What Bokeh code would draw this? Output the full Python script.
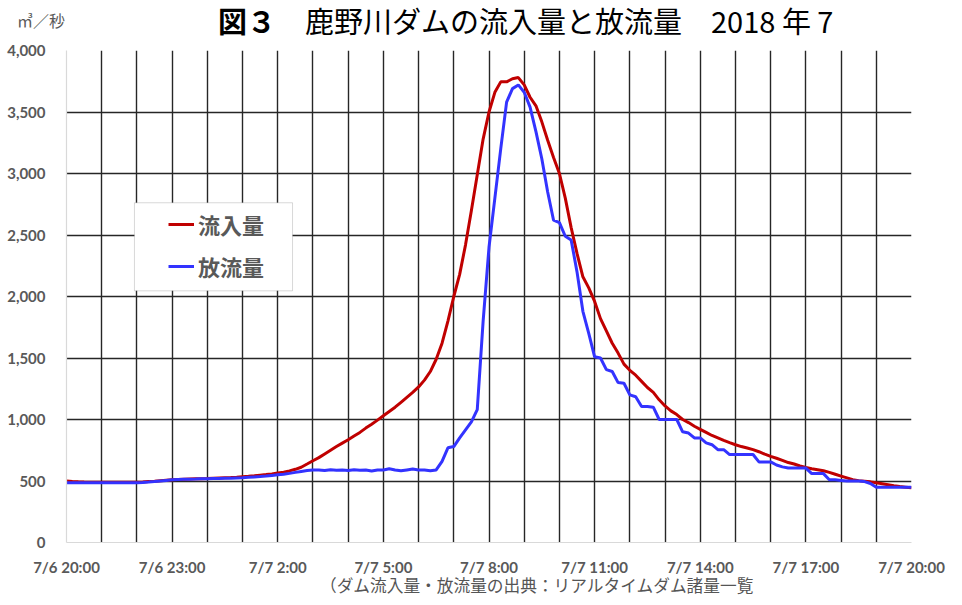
import numpy as np
from bokeh.plotting import figure
from bokeh.layouts import column
from bokeh.models import (Range1d, FixedTicker, NumeralTickFormatter, Legend, Div,
                          LegendItem, BoxAnnotation, ColumnDataSource)
from bokeh.embed import file_html
from bokeh.resources import INLINE

# ---------------- data (10-minute readings from 7/6 20:00 to 7/7 20:00) ----------------
step_minutes = 10
inflow = [
    500, 496, 493, 491, 490, 490,
    490, 490, 490, 490, 490, 490,
    490, 492, 495, 498, 502, 506,
    510, 512, 514, 516, 518, 519,
    520, 522, 524, 526, 528, 531,
    535, 538, 542, 547, 552, 558,
    565, 572, 582, 595, 612, 638,
    665, 690, 720, 750, 780, 808,
    835, 865, 895, 930, 962, 995,
    1030, 1065, 1100, 1140, 1180, 1220,
    1265, 1320, 1390, 1490, 1620, 1800,
    2000, 2180, 2420, 2700, 2990, 3280,
    3500, 3660, 3745, 3745, 3770, 3780,
    3720, 3620, 3550, 3420, 3270, 3130,
    3000, 2800, 2560, 2350, 2160, 2070,
    1960, 1820, 1720, 1620, 1540, 1450,
    1400, 1360, 1310, 1260, 1220, 1160,
    1110, 1070, 1040, 1000, 975, 945,
    920, 895, 870, 850, 830, 812,
    795, 780, 768, 755, 738, 718,
    700, 685, 668, 650, 638, 622,
    610, 600, 592, 583, 570, 555,
    540, 525, 510, 503, 498, 493,
    485, 478, 470, 462, 455, 450,
    445,
]
outflow = [
    485, 485, 485, 485, 485, 485,
    485, 485, 485, 485, 485, 485,
    486, 488, 491, 495, 500, 505,
    510, 512, 514, 515, 516, 518,
    519, 520, 521, 522, 523, 525,
    527, 530, 533, 536, 540, 545,
    550, 555, 562, 570, 578, 585,
    590, 590, 585, 592, 588, 590,
    585, 592, 588, 590, 582, 590,
    590, 600, 590, 583, 590, 597,
    590, 590, 583, 590, 660, 770,
    780, 850, 915, 980, 1080, 1800,
    2400, 2800, 3200, 3580, 3690, 3720,
    3660, 3540, 3340, 3120, 2850, 2620,
    2600, 2490, 2460, 2200, 1880, 1700,
    1510, 1500, 1405, 1390, 1300, 1295,
    1200, 1185, 1105, 1105, 1100, 1000,
    1000, 1000, 1000, 900, 890, 850,
    850, 810, 795, 755, 755, 715,
    715, 715, 715, 715, 655, 655,
    655, 630, 615, 605, 605, 605,
    605, 560, 560, 560, 510, 510,
    505, 500, 500, 500, 495, 480,
    450, 450, 450, 450, 450, 450,
    450,
]
tick_hours = [0, 3, 6, 9, 12, 15, 18, 21, 24]
tick_labels = ["7/6 20:00", "7/6 23:00", "7/7 2:00", "7/7 5:00", "7/7 8:00",
               "7/7 11:00", "7/7 14:00", "7/7 17:00", "7/7 20:00"]
y_ticks = [0, 500, 1000, 1500, 2000, 2500, 3000, 3500, 4000]
series_names = ["流入量", "放流量"]
title_bold = "図３"
title_rest = "鹿野川ダムの流入量と放流量　2018 年 7"
unit_text = "㎥／秒"
source_note = "（ダム流入量・放流量の出典：リアルタイムダム諸量一覧"

hours = np.arange(len(inflow)) * step_minutes / 60.0
src = ColumnDataSource(dict(h=hours, inflow=inflow, outflow=outflow))

# ---------------- figure ----------------
LABEL_FONT = "Lato"
JP_FONT = "Noto Sans CJK JP"
GRAY = "#595959"

p = figure(frame_width=845, frame_height=492,
           min_border_left=66, min_border_right=35, min_border_top=10, min_border_bottom=35,
           x_range=Range1d(0, 24), y_range=Range1d(0, 4000),
           output_backend="svg", toolbar_location=None, margin=0)
p.outline_line_color = None
p.background_fill_color = "white"
p.border_fill_color = "white"

# grid
p.xgrid.ticker = FixedTicker(ticks=list(range(1, 25)))
p.ygrid.ticker = FixedTicker(ticks=y_ticks[1:])
for g in (p.xgrid, p.ygrid):
    g.grid_line_color = "#262626"
    g.grid_line_width = 1.4

# axes
p.xaxis.ticker = FixedTicker(ticks=tick_hours)
p.xaxis.major_label_overrides = {h: l for h, l in zip(tick_hours, tick_labels)}
p.yaxis.ticker = FixedTicker(ticks=y_ticks)
p.yaxis.formatter = NumeralTickFormatter(format="0,0")
for ax in (p.xaxis, p.yaxis):
    ax.axis_line_color = "#d9d9d9"
    ax.axis_line_width = 1.2
    ax.major_tick_line_color = None
    ax.minor_tick_line_color = None
    ax.major_tick_out = 0
    ax.major_tick_in = 0
    ax.major_label_text_font = LABEL_FONT
    ax.major_label_text_font_style = "bold"
    ax.major_label_text_font_size = "15px"
    ax.major_label_text_color = GRAY
p.xaxis.major_label_standoff = 15
p.yaxis.major_label_standoff = 21

# lines
r_in = p.line("h", "inflow", source=src, line_color="#c00000", line_width=3)
r_out = p.line("h", "outflow", source=src, line_color="#3333ff", line_width=3)

# legend box + legend
box = BoxAnnotation(left=1.93, right=6.42, bottom=2046, top=2762,
                    fill_color="white", fill_alpha=1.0,
                    line_color="#7f7f7f", line_width=1)
p.add_layout(box)
legend = Legend(items=[LegendItem(label=series_names[0], renderers=[r_in]),
                       LegendItem(label=series_names[1], renderers=[r_out])],
                location=(102, 260), padding=0, margin=0, spacing=10,
                glyph_width=26, glyph_height=30, label_height=30, label_standoff=4,
                label_text_font=JP_FONT, label_text_font_style="bold",
                label_text_font_size="22px", label_text_color=GRAY,
                background_fill_alpha=0, border_line_alpha=0)
p.add_layout(legend)

# ---------------- texts above / below the chart ----------------
top_html = (
    f'<div style="position:relative;width:946px;height:40px;font-family:\'{JP_FONT}\';">'
    f'<span style="position:absolute;left:17px;top:12px;font-size:16px;line-height:16px;'
    f'color:{GRAY};white-space:nowrap;">{unit_text}</span>'
    f'<span style="position:absolute;left:218px;top:6px;font-size:29px;line-height:29px;'
    f'font-weight:bold;color:black;white-space:nowrap;">{title_bold}</span>'
    f'<span style="position:absolute;left:305px;top:6px;font-size:29px;line-height:29px;'
    f'color:black;white-space:nowrap;">{title_rest}</span>'
    f'</div>'
)
bottom_html = (
    f'<div style="position:relative;width:946px;height:20px;font-family:\'{JP_FONT}\';">'
    f'<span style="position:absolute;left:320px;top:-1px;font-size:16.7px;line-height:17px;'
    f'color:#555555;white-space:nowrap;">{source_note}</span>'
    f'</div>'
)
top_div = Div(text=top_html, width=946, height=40, margin=0)
bottom_div = Div(text=bottom_html, width=946, height=20, margin=0)

layout = column(top_div, p, bottom_div, spacing=0)
open("out.html", "w").write(file_html(layout, INLINE))
